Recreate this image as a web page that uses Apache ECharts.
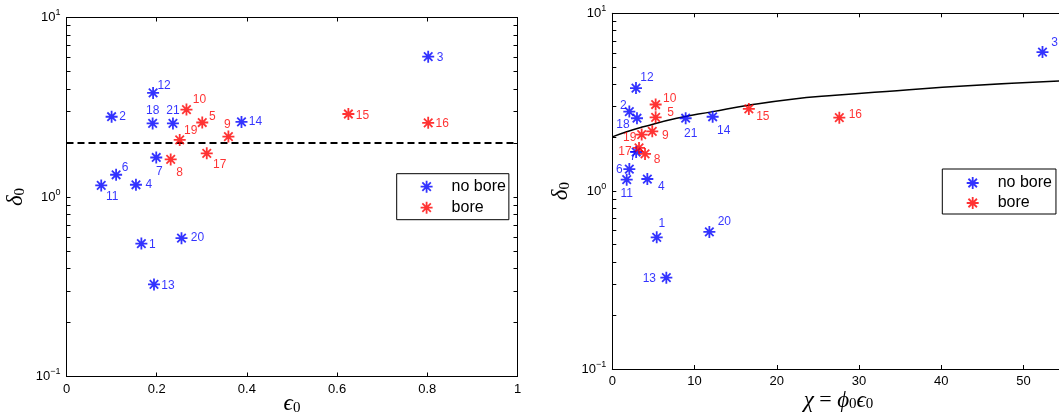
<!DOCTYPE html>
<html><head><meta charset="utf-8">
<script src="https://cdn.jsdelivr.net/npm/echarts@6/dist/echarts.min.js"></script>
<style>html,body{margin:0;padding:0;background:#fff}#c{width:1059px;height:419px}</style>
</head><body><div id="c"></div>
<script>
// ---------------- data ----------------
const caseIds   = [1,2,3,4,5,6,7,8,9,10,11,12,13,14,15,16,17,18,19,20,21];
const noBoreIds = [1,2,3,4,6,7,11,12,13,14,18,20,21];
const boreIds   = [5,8,9,10,15,16,17,19];
const eps0   = [0.166,0.100,0.802,0.154,0.301,0.110,0.199,0.231,0.359,0.266,0.077,0.192,0.194,0.388,0.625,0.802,0.311,0.191,0.251,0.255,0.236];
const chi    = [5.4,2.07,52.3,4.26,5.27,2.07,2.9,3.98,4.86,5.27,1.75,2.88,6.57,12.2,16.6,27.6,3.25,3.0,3.57,11.8,8.92];
const delta0 = [0.55,2.8,6.05,1.17,2.6,1.33,1.66,1.62,2.17,3.07,1.16,3.8,0.326,2.62,2.9,2.59,1.75,2.57,2.08,0.59,2.57];
const thresholdEps   = [0, 1];
const thresholdDelta = [2, 2];
const curveChi   = [0, 1.75, 3.77, 7.83, 12.2, 16.7, 21.6, 27.1, 34.6, 42.7, 55];
const curveDelta = [2.02, 2.16, 2.30, 2.57, 2.80, 3.05, 3.28, 3.46, 3.67, 3.90, 4.17];
const yTickValues = [0.1,0.2,0.3,0.4,0.5,0.6,0.7,0.8,0.9,1,2,3,4,5,6,7,8,9,10];

// ---------------- styles ----------------
const BLUE = '#0000ff', RED = '#ff0000';
const STAR = 'path://M0,-10L0,10M-10,0L10,0M-7.07,-7.07L7.07,7.07M-7.07,7.07L7.07,-7.07';
const SANS = 'Liberation Sans, Arial, Helvetica, sans-serif';
const SERIF = 'Liberation Serif, DejaVu Serif, serif';
// label offsets [dx, dy] of the number labels, per case id
const labelOffL = {1:[11,1],2:[11,0],3:[12,1],4:[13,0],5:[10,-6],6:[9,-7],7:[3,14],8:[9,13],9:[-1,-12],10:[13,-10],
  11:[11,11],12:[11,-7],13:[14,1],14:[14,0],15:[14,2],16:[14,1],17:[13,11],18:[0,-13],19:[11,-9],20:[16,0],21:[0,-13]};
const labelOffR = {1:[5,-14],2:[-6,-6],3:[12,-9],4:[14,8],5:[15,-5],6:[-10,1],7:[-3,5],8:[12,6],9:[13,4],10:[14,-6],
  11:[0,14],12:[11,-10],13:[-17,1],14:[11,14],15:[14,8],16:[16,-3],17:[-14,4],18:[-14,6],19:[-12,3],20:[15,-10],21:[5,15]};

function pts(ids, xs, offs) {
  return ids.map(id => {
    const i = caseIds.indexOf(id);
    return {name: String(id), value: [xs[i], delta0[i]], label: {offset: offs[id]}};
  });
}
function zip(a, b) { return a.map((v, i) => [v, b[i]]); }

function scatter(name, color, ids, xs, offs, xi, yi) {
  return {
    type: 'scatter', name, xAxisIndex: xi, yAxisIndex: yi,
    symbol: STAR, symbolSize: 12,
    itemStyle: {color: color, borderColor: color, borderWidth: 1.8},
    label: {show: true, position: 'inside', formatter: '{b}', color: color, fontSize: 12, fontFamily: SANS},
    emphasis: {disabled: true},
    data: pts(ids, xs, offs), z: 3
  };
}

const expFmt = v => {
  const e = Math.round(Math.log10(v));
  return '{b|10}{s|' + (e < 0 ? '\u2212' + (-e) : e) + '}';
};
const expRich = {
  b: {fontSize: 13, fontFamily: SANS, color: '#000'},
  s: {fontSize: 9, fontFamily: SANS, color: '#000', padding: [0, 0, 9, 0]}
};
const nameRich = {
  i: {fontFamily: SERIF, fontStyle: 'italic', fontSize: 23, color: '#000'},
  r: {fontFamily: SERIF, fontSize: 22, color: '#000'},
  sub: {fontFamily: SERIF, fontSize: 15, color: '#000', padding: [8, 0, 0, 0]}
};

function xAxes(grid, max, interval, nameStr, nameGap) {
  const base = {
    type: 'value', gridIndex: grid, min: 0, max: max, interval: interval,
    axisLine: {show: true, onZero: false, lineStyle: {color: '#000', width: 1}},
    axisTick: {inside: true, length: 4, lineStyle: {color: '#000'}},
    splitLine: {show: false}
  };
  return [
    Object.assign({}, base, {position: 'bottom',
      axisLabel: {fontSize: 13, fontFamily: SANS, color: '#000', margin: 6, showMaxLabel: max === 1},
      name: nameStr, nameLocation: 'middle', nameGap: nameGap, nameMoveOverlap: false,
      nameTextStyle: {rich: nameRich}}),
    Object.assign({}, base, {position: 'top', axisLabel: {show: false}})
  ];
}
function yAxes(grid, nameGap) {
  const base = {
    type: 'log', logBase: 10, gridIndex: grid, min: 0.1, max: 10,
    axisLine: {show: true, onZero: false, lineStyle: {color: '#000', width: 1}},
    axisTick: {inside: true, length: 4, lineStyle: {color: '#000'}, customValues: yTickValues},
    splitLine: {show: false}
  };
  return [
    Object.assign({}, base, {position: 'left',
      axisLabel: {formatter: expFmt, rich: expRich, margin: 6},
      name: '{i|\u03b4}{sub|0}', nameLocation: 'middle', nameGap: nameGap,
      nameTextStyle: {rich: nameRich}}),
    Object.assign({}, base, {position: 'right', axisLabel: {show: false}})
  ];
}

function legend(left, top, padding, gap) {
  return {
    orient: 'vertical', left: left, top: top, padding: padding,
    itemWidth: 40, itemHeight: 12, itemGap: gap,
    borderColor: '#000', borderWidth: 1, backgroundColor: '#fff',
    selectedMode: false, icon: STAR,
    textStyle: {fontSize: 16, fontFamily: SANS, color: '#000'},
    data: [
      {name: 'no bore', itemStyle: {color: BLUE, borderColor: BLUE, borderWidth: 1.8}},
      {name: 'bore', itemStyle: {color: RED, borderColor: RED, borderWidth: 1.8}}
    ]
  };
}

const option = {
  animation: false,
  backgroundColor: '#fff',
  grid: [
    {left: 66.5, top: 17.5, width: 451, height: 359, outerBoundsMode: 'none', containLabel: false},
    {left: 612.3, top: 13.3, width: 452.4, height: 355.7, outerBoundsMode: 'none', containLabel: false}
  ],
  xAxis: [].concat(
    xAxes(0, 1, 0.2, '{i|\u03f5}{sub|0}', 16),
    xAxes(1, 55, 10, '{i|\u03c7}{r| = }{i|\u03d5}{sub|0}{i|\u03f5}{sub|0}', 20)
  ),
  yAxis: [].concat(yAxes(0, 39), yAxes(1, 40)),
  legend: [legend(396.7, 173.7, [5, 3, 4, 23], 5), legend(942.3, 169, [6, 4, 3, 23.5], 4)],
  series: [
    scatter('no bore', BLUE, noBoreIds, eps0, labelOffL, 0, 0),
    scatter('bore', RED, boreIds, eps0, labelOffL, 0, 0),
    {type: 'line', xAxisIndex: 0, yAxisIndex: 0, data: zip(thresholdEps, thresholdDelta),
     symbol: 'none', lineStyle: {color: '#000', width: 2, type: [7, 4]}, silent: true, z: 2},
    scatter('no bore', BLUE, noBoreIds, chi, labelOffR, 2, 2),
    scatter('bore', RED, boreIds, chi, labelOffR, 2, 2),
    {type: 'line', xAxisIndex: 2, yAxisIndex: 2, data: zip(curveChi, curveDelta), smooth: true,
     symbol: 'none', lineStyle: {color: '#000', width: 1.5}, silent: true, z: 2}
  ]
};
echarts.init(document.getElementById('c'), null, {renderer: 'canvas'}).setOption(option);
</script>
</body></html>
